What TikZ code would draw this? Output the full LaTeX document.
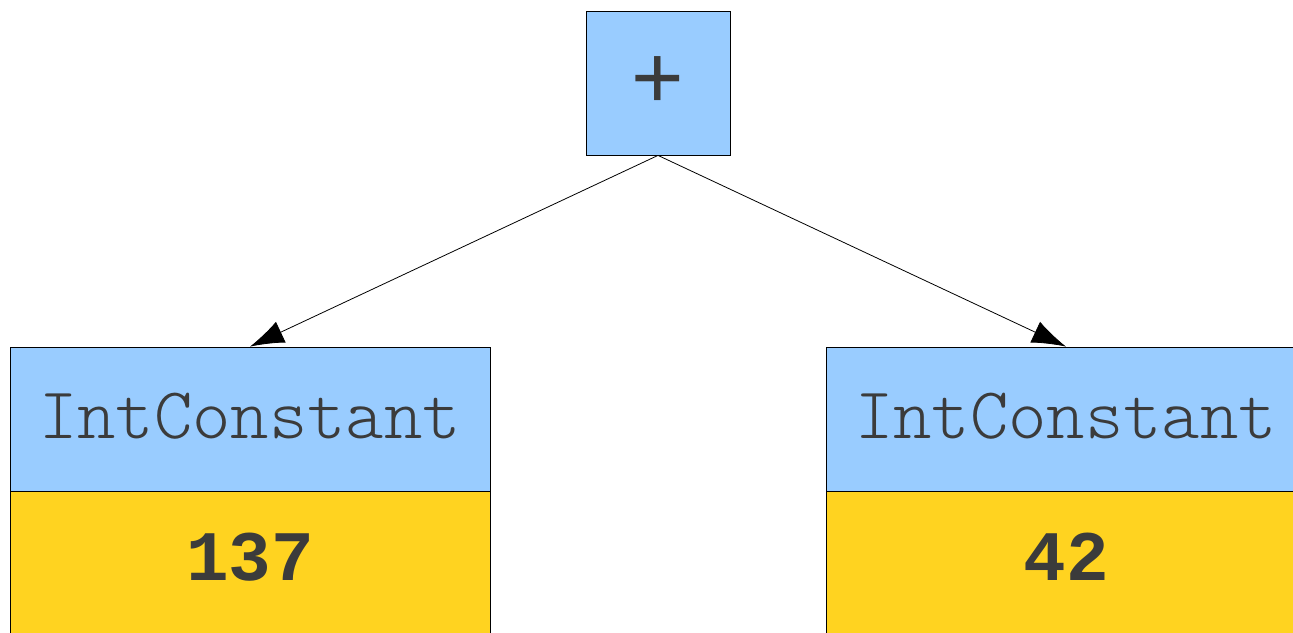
\documentclass[tikz,border=0pt]{standalone}
\usepackage{fontspec}
\setmainfont{Liberation Sans}
\setmonofont{Liberation Mono}
\newfontfamily\kindfont{Latin Modern Mono Light}
\usepackage{tikz}
\usetikzlibrary{arrows.meta,positioning}
\definecolor{astsky}{HTML}{99CCFF}
\definecolor{astgold}{HTML}{FFD320}
\definecolor{astgrey}{HTML}{3B3B3B}

\begin{document}
\begin{tikzpicture}[
  x=1pt,y=-1pt,
  opnode/.style={draw=black,line width=0.8pt,fill=astsky,minimum width=144pt,
                 minimum height=144pt,inner sep=0pt,text=astgrey,
                 font=\fontsize{90}{90}\selectfont},
  kind/.style={draw=black,line width=0.8pt,fill=astsky,minimum width=480pt,
               minimum height=144pt,inner sep=0pt,text=astgrey,text depth=6pt,
               font=\kindfont\fontsize{73}{73}\selectfont},
  val/.style={draw=black,line width=0.8pt,fill=astgold,minimum width=480pt,
              minimum height=144pt,inner sep=0pt,text=astgrey,text depth=14pt,
              font=\ttfamily\bfseries\fontsize{71}{71}\selectfont},
  arr/.style={-{Latex[length=34pt,width=23pt]},line width=0.8pt,draw=black},
]
\clip (0,0) rectangle (1293,632);
\useasboundingbox (0,0) rectangle (1293,632);
\node[opnode] (plus) at (658,83) {+};
\node[kind] (lkind) at (250,419) {IntConstant};
\node[val,below=0pt of lkind] (lval) {137};
\node[kind] (rkind) at (1066,419) {IntConstant};
\node[val,below=0pt of rkind] (rval) {42};
\draw[arr] (plus.south) -- (lkind.north);
\draw[arr] (plus.south) -- (rkind.north);
\end{tikzpicture}
\end{document}
